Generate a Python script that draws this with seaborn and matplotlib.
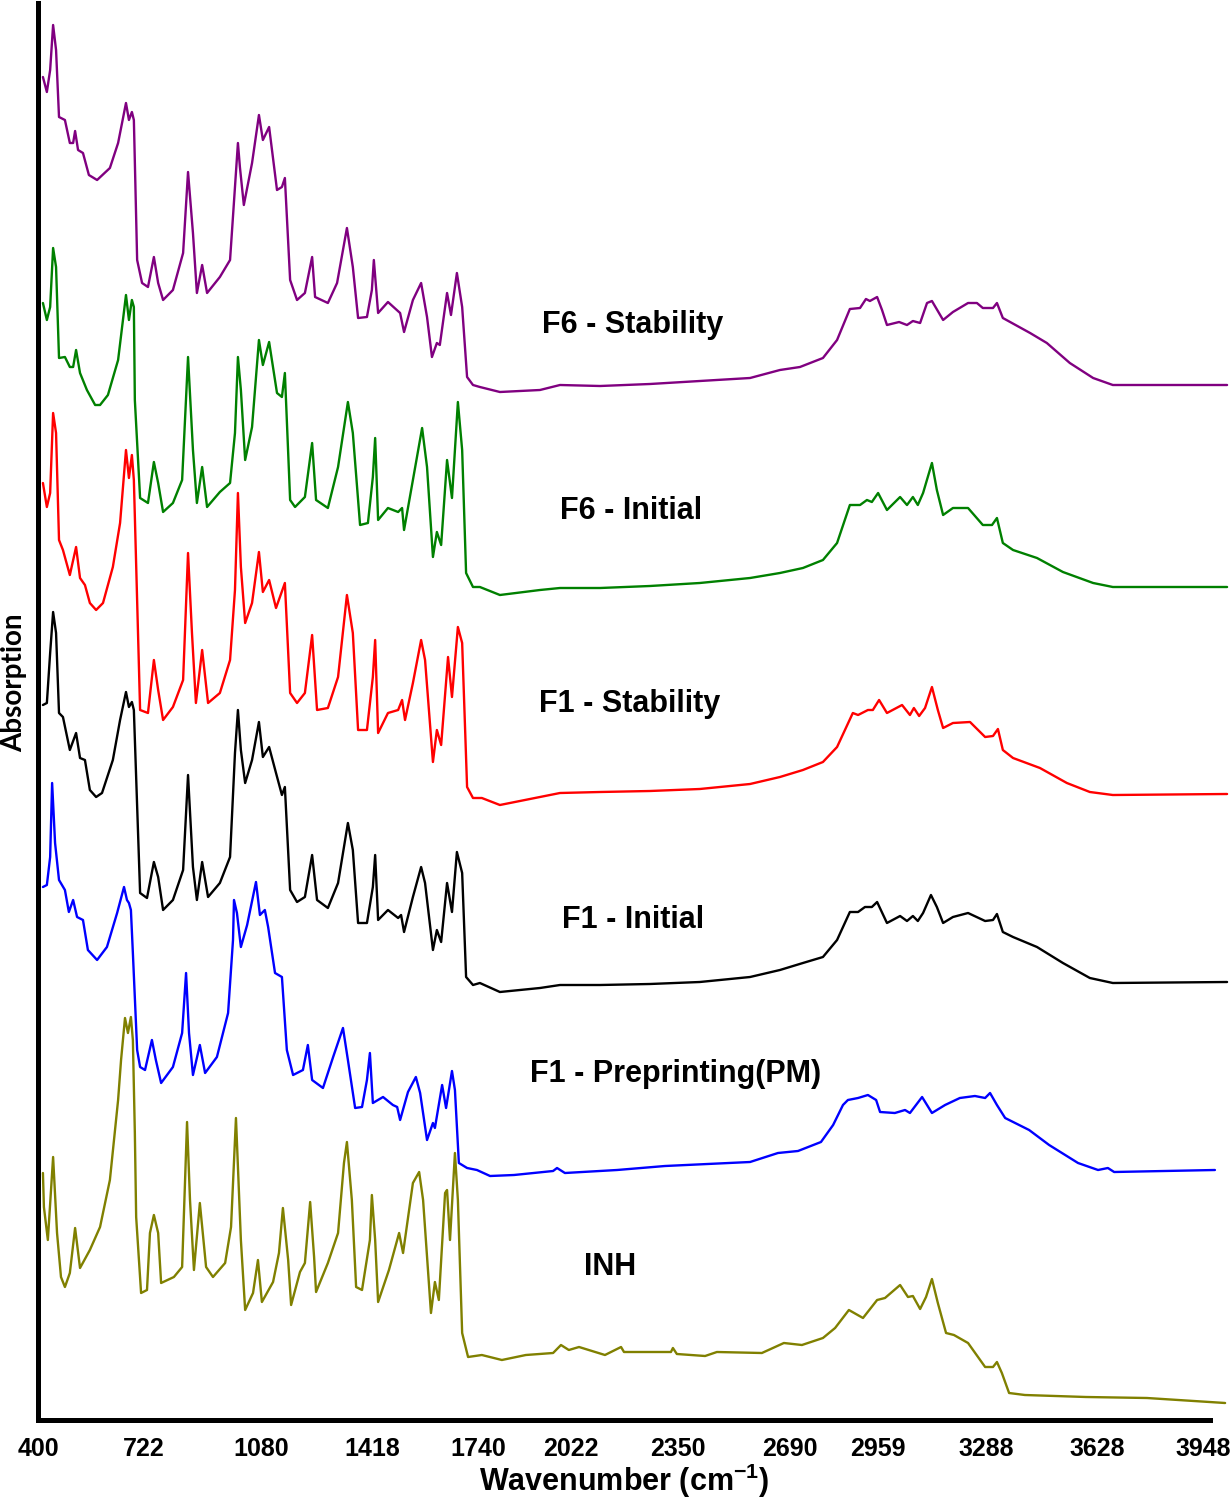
import matplotlib
matplotlib.use("Agg")
import matplotlib.pyplot as plt
import seaborn as sns

# -------------------------
# Spectra (wavenumber cm-1, stacked absorption a.u.)
# -------------------------
f6_stab_x = [415, 427, 437, 446, 455, 464, 482, 497, 507, 513, 522, 537, 555, 580, 619, 644, 668, 677, 686, 692,
             702, 717, 735, 753, 766, 781, 811, 842, 857, 872, 884, 900, 915, 954, 985, 1000, 1009, 1015, 1027, 1052,
             1073, 1085, 1104, 1128, 1143, 1152, 1168, 1189, 1213, 1235, 1244, 1283, 1311, 1341, 1359, 1375, 1402,
             1417, 1423, 1436, 1466, 1503, 1515, 1542, 1567, 1585, 1600, 1615, 1624, 1646, 1658, 1676, 1692, 1707,
             1725, 1746, 1807, 1929, 1990, 2112, 2264, 2416, 2569, 2660, 2721, 2791, 2834, 2873, 2904, 2922, 2934,
             2956, 2971, 2986, 3023, 3047, 3065, 3087, 3108, 3123, 3157, 3187, 3233, 3260, 3278, 3309, 3321, 3339,
             3422, 3473, 3543, 3614, 3674, 4022]
f6_stab_y = [13.43, 13.28, 13.50, 13.95, 13.70, 13.03, 13.00, 12.77, 12.77, 12.89, 12.70, 12.67, 12.45, 12.40, 12.52,
             12.77, 13.17, 13.00, 13.08, 13.00, 11.60, 11.37, 11.33, 11.63, 11.37, 11.20, 11.30, 11.67, 12.48, 11.87,
             11.27, 11.55, 11.27, 11.43, 11.60, 12.33, 12.77, 12.53, 12.15, 12.57, 13.05, 12.80, 12.93, 12.30, 12.33,
             12.42, 11.40, 11.20, 11.27, 11.63, 11.23, 11.17, 11.37, 11.92, 11.53, 11.02, 11.03, 11.30, 11.60, 11.07,
             11.18, 11.07, 10.88, 11.20, 11.37, 11.03, 10.63, 10.77, 10.75, 11.27, 11.05, 11.47, 11.13, 10.43, 10.35,
             10.33, 10.28, 10.30, 10.35, 10.34, 10.36, 10.39, 10.42, 10.50, 10.53, 10.62, 10.80, 11.11, 11.12, 11.21,
             11.19, 11.23, 11.10, 10.95, 10.98, 10.95, 10.99, 10.97, 11.17, 11.19, 11.00, 11.08, 11.17, 11.17, 11.12,
             11.12, 11.17, 11.02, 10.87, 10.77, 10.57, 10.42, 10.35, 10.35]

f6_init_x = [415, 427, 437, 446, 455, 464, 482, 497, 507, 516, 528, 549, 574, 589, 613, 644, 668, 677, 686, 692,
             695, 711, 735, 753, 766, 781, 811, 839, 857, 872, 884, 900, 915, 954, 985, 1000, 1009, 1018, 1031, 1052,
             1073, 1085, 1104, 1128, 1143, 1152, 1168, 1183, 1213, 1235, 1247, 1283, 1314, 1344, 1359, 1381, 1405,
             1420, 1427, 1436, 1466, 1497, 1509, 1515, 1542, 1570, 1585, 1603, 1615, 1628, 1646, 1661, 1679, 1692,
             1704, 1725, 1746, 1807, 1929, 1990, 2112, 2264, 2416, 2569, 2660, 2730, 2791, 2834, 2873, 2904, 2925,
             2940, 2959, 2986, 3026, 3047, 3065, 3080, 3096, 3123, 3138, 3157, 3187, 3233, 3278, 3306, 3321, 3339,
             3370, 3443, 3522, 3614, 3674, 4022]
f6_init_y = [11.17, 11.00, 11.13, 11.72, 11.53, 10.62, 10.63, 10.53, 10.53, 10.70, 10.47, 10.30, 10.15, 10.15, 10.25,
             10.60, 11.25, 11.00, 11.20, 11.13, 10.20, 9.22, 9.17, 9.58, 9.37, 9.08, 9.17, 9.40, 10.63, 9.70, 9.17,
             9.53, 9.13, 9.28, 9.37, 9.87, 10.63, 10.30, 9.60, 9.93, 10.80, 10.55, 10.78, 10.27, 10.23, 10.47, 9.20,
             9.13, 9.23, 9.77, 9.20, 9.12, 9.53, 10.18, 9.87, 8.95, 8.97, 9.43, 9.82, 9.00, 9.12, 9.08, 9.12, 8.90,
             9.40, 9.92, 9.53, 8.63, 8.88, 8.75, 9.60, 9.22, 10.18, 9.70, 8.47, 8.33, 8.33, 8.25, 8.30, 8.32, 8.32,
             8.34, 8.37, 8.42, 8.47, 8.52, 8.60, 8.77, 9.15, 9.15, 9.20, 9.18, 9.27, 9.10, 9.23, 9.15, 9.23, 9.15,
             9.27, 9.57, 9.30, 9.05, 9.12, 9.12, 8.95, 8.95, 9.02, 8.77, 8.70, 8.62, 8.48, 8.37, 8.33, 8.33]

f1_stab_x = [415, 427, 437, 446, 455, 464, 476, 497, 516, 528, 543, 558, 577, 598, 628, 650, 668, 677, 686, 692,
             711, 735, 753, 766, 781, 811, 842, 857, 869, 881, 900, 918, 954, 985, 1000, 1009, 1018, 1031, 1052,
             1073, 1085, 1104, 1125, 1152, 1168, 1189, 1213, 1235, 1250, 1283, 1314, 1341, 1359, 1375, 1402, 1420,
             1427, 1436, 1466, 1497, 1509, 1518, 1542, 1567, 1579, 1603, 1615, 1628, 1649, 1661, 1679, 1692, 1707,
             1725, 1752, 1807, 1929, 1990, 2112, 2264, 2416, 2569, 2660, 2730, 2791, 2834, 2882, 2898, 2928, 2943,
             2962, 2986, 3032, 3056, 3068, 3084, 3102, 3123, 3141, 3157, 3187, 3239, 3285, 3309, 3324, 3339, 3370,
             3452, 3534, 3604, 3674, 4022]
f1_stab_y = [9.37, 9.13, 9.27, 10.07, 9.87, 8.80, 8.70, 8.45, 8.73, 8.42, 8.35, 8.17, 8.10, 8.17, 8.53, 8.97, 9.70,
             9.42, 9.65, 9.40, 7.10, 7.07, 7.60, 7.30, 7.00, 7.13, 7.40, 8.67, 7.87, 7.17, 7.70, 7.17, 7.27, 7.60,
             8.30, 9.27, 8.53, 7.97, 8.17, 8.68, 8.28, 8.40, 8.12, 8.37, 7.27, 7.17, 7.27, 7.85, 7.10, 7.12, 7.43,
             8.25, 7.87, 6.90, 6.90, 7.43, 7.80, 6.87, 7.07, 7.10, 7.20, 7.00, 7.37, 7.80, 7.60, 6.58, 6.90, 6.75,
             7.63, 7.23, 7.93, 7.77, 6.33, 6.22, 6.22, 6.15, 6.23, 6.27, 6.28, 6.29, 6.31, 6.36, 6.43, 6.50, 6.58,
             6.73, 7.07, 7.05, 7.10, 7.10, 7.20, 7.07, 7.15, 7.05, 7.12, 7.04, 7.12, 7.33, 7.10, 6.92, 6.97, 6.98,
             6.83, 6.84, 6.91, 6.70, 6.62, 6.52, 6.37, 6.28, 6.25, 6.26]

f1_init_x = [415, 427, 437, 446, 455, 464, 476, 497, 516, 528, 543, 558, 577, 595, 628, 650, 668, 677, 686, 692,
             711, 732, 753, 766, 781, 811, 842, 857, 872, 884, 900, 918, 954, 985, 1000, 1009, 1018, 1031, 1052,
             1073, 1085, 1104, 1125, 1143, 1152, 1168, 1189, 1213, 1235, 1250, 1283, 1314, 1344, 1359, 1375, 1402,
             1420, 1427, 1436, 1466, 1497, 1506, 1515, 1542, 1567, 1579, 1603, 1615, 1628, 1646, 1661, 1676, 1692,
             1704, 1725, 1746, 1807, 1929, 1990, 2112, 2264, 2416, 2569, 2660, 2730, 2791, 2834, 2873, 2898, 2919,
             2940, 2956, 2986, 3026, 3047, 3065, 3080, 3096, 3120, 3138, 3157, 3187, 3233, 3285, 3309, 3321, 3339,
             3370, 3443, 3522, 3604, 3674, 4022]
f1_init_y = [7.15, 7.17, 7.67, 8.08, 7.87, 7.07, 7.03, 6.70, 6.87, 6.62, 6.60, 6.30, 6.23, 6.27, 6.60, 7.00, 7.28,
             7.13, 7.18, 7.10, 5.27, 5.22, 5.58, 5.43, 5.10, 5.20, 5.50, 6.45, 5.53, 5.20, 5.58, 5.23, 5.37, 5.63,
             6.67, 7.10, 6.70, 6.37, 6.60, 6.98, 6.63, 6.73, 6.47, 6.25, 6.33, 5.30, 5.18, 5.23, 5.65, 5.20, 5.12,
             5.37, 5.97, 5.70, 4.97, 4.97, 5.33, 5.65, 5.00, 5.10, 5.02, 5.05, 4.88, 5.23, 5.53, 5.37, 4.70, 4.90,
             4.78, 5.37, 5.08, 5.68, 5.47, 4.43, 4.35, 4.37, 4.28, 4.32, 4.35, 4.35, 4.36, 4.38, 4.43, 4.50, 4.57,
             4.63, 4.80, 5.08, 5.08, 5.13, 5.13, 5.18, 4.97, 5.04, 4.99, 5.04, 4.99, 5.07, 5.25, 5.13, 4.97, 5.03,
             5.07, 4.99, 5.00, 5.06, 4.88, 4.83, 4.73, 4.57, 4.42, 4.37, 4.38]

f1_pm_x = [415, 427, 437, 443, 452, 464, 482, 494, 507, 519, 537, 552, 580, 610, 641, 662, 671, 677, 683, 689, 702,
           711, 726, 747, 759, 775, 811, 839, 851, 860, 872, 893, 909, 945, 979, 994, 997, 1006, 1018, 1037, 1064,
           1076, 1091, 1101, 1122, 1143, 1158, 1177, 1207, 1222, 1235, 1268, 1299, 1329, 1344, 1366, 1387, 1402,
           1411, 1420, 1451, 1481, 1494, 1503, 1527, 1551, 1564, 1585, 1603, 1609, 1631, 1643, 1661, 1670, 1682,
           1707, 1737, 1777, 1850, 1969, 1981, 2005, 2164, 2310, 2569, 2654, 2715, 2785, 2822, 2852, 2867, 2898,
           2928, 2953, 2965, 3010, 3041, 3056, 3093, 3123, 3163, 3208, 3254, 3285, 3300, 3321, 3346, 3419, 3480,
           3568, 3629, 3659, 3678, 3985]
f1_pm_y = [5.33, 5.35, 5.63, 6.37, 5.77, 5.40, 5.30, 5.08, 5.20, 5.03, 5.00, 4.70, 4.60, 4.73, 5.07, 5.33, 5.20,
           5.17, 5.10, 4.67, 3.70, 3.53, 3.50, 3.80, 3.60, 3.37, 3.53, 3.87, 4.47, 3.87, 3.45, 3.75, 3.47, 3.63,
           4.07, 4.80, 5.20, 5.07, 4.73, 4.95, 5.38, 5.05, 5.10, 4.93, 4.47, 4.43, 3.70, 3.45, 3.50, 3.75, 3.40,
           3.32, 3.63, 3.92, 3.60, 3.12, 3.13, 3.40, 3.67, 3.17, 3.23, 3.15, 3.13, 3.00, 3.28, 3.43, 3.27, 2.80,
           2.97, 2.92, 3.35, 3.12, 3.49, 3.30, 2.57, 2.52, 2.50, 2.44, 2.45, 2.49, 2.52, 2.47, 2.50, 2.54, 2.58,
           2.67, 2.69, 2.78, 2.95, 3.15, 3.20, 3.22, 3.25, 3.20, 3.08, 3.07, 3.10, 3.07, 3.23, 3.07, 3.15, 3.22,
           3.24, 3.22, 3.27, 3.15, 3.02, 2.90, 2.75, 2.57, 2.50, 2.52, 2.48, 2.50]

inh_x = [415, 418, 430, 446, 458, 470, 482, 497, 513, 528, 558, 589, 619, 644, 653, 665, 674, 683, 689, 695, 699,
         714, 732, 741, 753, 766, 775, 814, 839, 854, 863, 875, 893, 912, 933, 970, 988, 1003, 1018, 1031, 1055,
         1070, 1082, 1116, 1134, 1146, 1162, 1171, 1198, 1213, 1229, 1241, 1247, 1283, 1314, 1332, 1341, 1356,
         1369, 1387, 1411, 1417, 1427, 1436, 1469, 1500, 1506, 1512, 1542, 1561, 1573, 1597, 1609, 1621, 1640,
         1646, 1655, 1670, 1679, 1692, 1710, 1752, 1813, 1886, 1969, 1993, 2017, 2048, 2127, 2176, 2185, 2328,
         2334, 2346, 2432, 2468, 2605, 2672, 2727, 2791, 2828, 2870, 2913, 2956, 2980, 3026, 3050, 3065, 3087,
         3105, 3123, 3141, 3166, 3190, 3233, 3285, 3309, 3321, 3336, 3358, 3406, 3592, 3778, 4016]
inh_y = [2.47, 2.13, 1.80, 2.63, 1.87, 1.43, 1.33, 1.47, 1.92, 1.52, 1.70, 1.93, 2.40, 3.20, 3.60, 4.02, 3.87, 4.03,
         3.80, 2.87, 2.03, 1.27, 1.30, 1.87, 2.05, 1.87, 1.37, 1.43, 1.53, 2.98, 2.20, 1.50, 2.17, 1.53, 1.43, 1.57,
         1.93, 3.02, 1.80, 1.10, 1.27, 1.60, 1.18, 1.38, 1.67, 2.12, 1.60, 1.15, 1.48, 1.57, 2.18, 1.63, 1.28, 1.57,
         1.87, 2.57, 2.78, 2.20, 1.33, 1.30, 1.80, 2.25, 1.80, 1.18, 1.50, 1.87, 1.77, 1.67, 2.37, 2.48, 2.20, 1.07,
         1.38, 1.20, 2.27, 2.30, 1.80, 2.67, 2.20, 0.87, 0.63, 0.65, 0.60, 0.65, 0.67, 0.75, 0.70, 0.73, 0.65, 0.73,
         0.68, 0.68, 0.72, 0.66, 0.64, 0.68, 0.67, 0.77, 0.75, 0.82, 0.92, 1.10, 1.02, 1.20, 1.22, 1.35, 1.23, 1.24,
         1.11, 1.23, 1.41, 1.17, 0.87, 0.85, 0.77, 0.53, 0.53, 0.58, 0.47, 0.27, 0.25, 0.23, 0.22, 0.17]

series_names = ["F6 - Stability", "F6 - Initial", "F1 - Stability", "F1 - Initial", "F1 - Preprinting(PM)", "INH"]
series_colors = ["#800080", "#008000", "#ff0000", "#000000", "#0000ff", "#808000"]
label_x = [2212, 2206, 2203, 2212, 2343, 2142]
label_y = [10.95, 9.09, 7.16, 5.00, 3.46, 1.53]

tick_values = [400, 722, 1080, 1418, 1740, 2022, 2350, 2690, 2959, 3288, 3628, 3948]

spectra = [(f6_stab_x, f6_stab_y), (f6_init_x, f6_init_y), (f1_stab_x, f1_stab_y),
           (f1_init_x, f1_init_y), (f1_pm_x, f1_pm_y), (inh_x, inh_y)]

# -------------------------
# Plot
# -------------------------
sns.set_theme(style="white")
plt.rcParams["font.family"] = ["Liberation Sans", "DejaVu Sans"]
plt.rcParams["mathtext.default"] = "regular"
plt.rcParams["text.color"] = "black"
plt.rcParams["axes.labelcolor"] = "black"
plt.rcParams["xtick.color"] = "black"

fig = plt.figure(figsize=(12.32, 15), dpi=100)
ax = fig.add_axes([38 / 1232, 80 / 1500, 1172 / 1232, 1417 / 1500])

for (xs, ys), color in zip(spectra, series_colors):
    sns.lineplot(x=xs, y=ys, color=color, linewidth=1.7, ax=ax, clip_on=False, sort=False)

for name, lx, ly in zip(series_names, label_x, label_y):
    ax.text(lx, ly, name, ha="center", va="center", fontsize=22, fontweight="bold", color="black")

ax.set_xlim(400, 3970)
ax.set_ylim(0, 14.17)
ax.set_xticks(tick_values)
ax.set_xticklabels([str(t) for t in tick_values], fontsize=18, fontweight="bold", color="black")
ax.set_yticks([])
ax.tick_params(axis="x", length=0, pad=12)

ax.set_xlabel("Wavenumber (cm$^{-1}$)", fontsize=22, fontweight="bold", color="black", labelpad=1)
ax.set_ylabel("Absorption", fontsize=20, fontweight="bold", color="black", family=["Lato", "DejaVu Sans"])
ax.yaxis.set_label_coords(-0.009, 0.52)

for side in ["top", "right"]:
    ax.spines[side].set_visible(False)
for side in ["left", "bottom"]:
    ax.spines[side].set_linewidth(3.6)
    ax.spines[side].set_color("black")

fig.savefig("out.png", dpi=100)
